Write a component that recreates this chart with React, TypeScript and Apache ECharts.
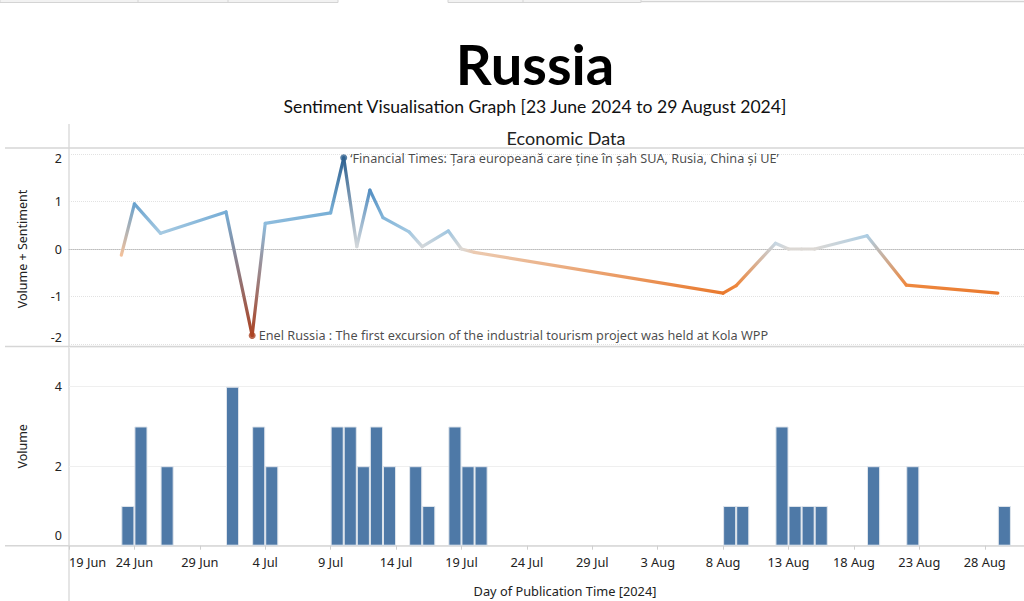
import React, { useEffect, useRef } from 'react';
import * as echarts from 'echarts';

// ---- data ----
const dates = [
  '2024-06-23', '2024-06-24', '2024-06-26', '2024-07-01', '2024-07-03', '2024-07-04',
  '2024-07-09', '2024-07-10', '2024-07-11', '2024-07-12', '2024-07-13', '2024-07-15',
  '2024-07-16', '2024-07-18', '2024-07-19', '2024-07-20', '2024-08-08', '2024-08-09',
  '2024-08-12', '2024-08-13', '2024-08-14', '2024-08-15', '2024-08-19', '2024-08-22',
  '2024-08-29',
];
const sentiment = [
  -0.13, 0.95, 0.33, 0.78, -1.82, 0.54,
  0.76, 1.92, 0.05, 1.24, 0.66, 0.36,
  0.05, 0.38, 0.0, -0.07, -0.93, -0.77,
  0.12, 0.0, 0.0, 0.0, 0.28, -0.76,
  -0.93,
];
const volume = [
  1, 3, 2, 4, 3, 2,
  3, 3, 2, 3, 2, 2,
  1, 3, 2, 2, 1, 1,
  3, 1, 1, 1, 2, 2,
  1,
];
const axisStart = '2024-06-19';
const axisEnd = '2024-08-31';
const monthNames = ['Jan', 'Feb', 'Mar', 'Apr', 'May', 'Jun', 'Jul', 'Aug', 'Sep', 'Oct', 'Nov', 'Dec'];
const sentimentTicks = [-2, -1, 0, 1, 2];
const maxHeadline = '‘Financial Times: Țara europeană care ține în șah SUA, Rusia, China și UE’';
const minHeadline = 'Enel Russia : The first excursion of the industrial tourism project was held at Kola WPP';

const titleText = 'Russia';
const subtitleText = 'Sentiment Visualisation Graph [23 June 2024 to 29 August 2024]';
const paneTitle = 'Economic Data';
const xName = 'Day of Publication Time [2024]';

// diverging orange-blue palette stops (value -> colour)
const paletteStops: [number, string][] = [
  [-2, '#9e3d22'], [-1.5, '#c24d26'], [-0.9, '#eb7b2d'], [-0.4, '#f5a86c'], [-0.1, '#f3c4a0'],
  [0, '#dcd8d4'], [0.15, '#c0d6e5'], [0.4, '#9cc5e1'], [0.8, '#74acd5'], [1.3, '#4f8abf'], [2, '#2b5c8a'],
];

const DAY = 86400000;
const dayOffset = (s: string) => (Date.parse(s) - Date.parse(axisStart)) / DAY;
const totalDays = dayOffset(axisEnd);
const fmtDay = (v: number) => {
  const d = new Date(Date.parse(axisStart) + Math.round(v) * DAY);
  return d.getUTCDate() + ' ' + monthNames[d.getUTCMonth()];
};

const hexToRgb = (h: string) => [parseInt(h.slice(1, 3), 16), parseInt(h.slice(3, 5), 16), parseInt(h.slice(5, 7), 16)];
const colorOf = (v: number) => {
  if (v <= paletteStops[0][0]) return paletteStops[0][1];
  for (let i = 1; i < paletteStops.length; i++) {
    const [v1, c1] = paletteStops[i];
    if (v <= v1) {
      const [v0, c0] = paletteStops[i - 1];
      const t = (v - v0) / (v1 - v0);
      const a = hexToRgb(c0);
      const b = hexToRgb(c1);
      const m = a.map((x, k) => Math.round(x + (b[k] - x) * t));
      return 'rgb(' + m.join(',') + ')';
    }
  }
  return paletteStops[paletteStops.length - 1][1];
};

const FONT = '"Noto Sans", sans-serif';
const TFONT = 'Lato, "Noto Sans", sans-serif';

export default function App() {
  const ref = useRef<HTMLDivElement>(null);

  useEffect(() => {
    if (!ref.current) return;
    const chart = echarts.init(ref.current, undefined, { renderer: 'svg' });

    const pts = dates.map((d, i) => [dayOffset(d), sentiment[i]]);
    const segments = pts.slice(1).map((p, i) => [pts[i][0], pts[i][1], p[0], p[1]]);
    const barData = dates.map((d, i) => [dayOffset(d) + 0.5, volume[i]]);
    let iMax = 0;
    let iMin = 0;
    sentiment.forEach((v, i) => {
      if (v > sentiment[iMax]) iMax = i;
      if (v < sentiment[iMin]) iMin = i;
    });
    const annot = [
      { value: pts[iMax], label: { formatter: maxHeadline } },
      { value: pts[iMin], label: { formatter: minHeadline } },
    ];

    const gray = '#d6d6d6';
    const option: any = {
      animation: false,
      backgroundColor: '#ffffff',
      textStyle: { fontFamily: FONT },
      grid: [
        { left: 69, right: 0, top: 154, height: 190 },
        { left: 69, right: 0, top: 347, height: 198.7 },
      ],
      xAxis: [
        {
          gridIndex: 0,
          type: 'value',
          min: 0,
          max: totalDays,
          interval: 5,
          axisLabel: { show: false },
          axisTick: { show: false },
          splitLine: { show: false },
          axisLine: { show: true, onZero: true, lineStyle: { color: '#bdbdbd', type: 'dotted', width: 1 } },
        },
        {
          gridIndex: 1,
          type: 'value',
          min: 0,
          max: totalDays,
          interval: 5,
          axisLabel: {
            formatter: fmtDay,
            color: '#222',
            fontSize: 12.8,
            fontFamily: FONT,
            margin: 10,
            alignMinLabel: 'left',
            showMaxLabel: false,
          },
          axisTick: { show: true, length: 4, lineStyle: { color: '#cfcfcf' } },
          axisLine: { show: true, onZero: false, lineStyle: { color: gray, width: 1.5 } },
          splitLine: { show: false },
        },
      ],
      yAxis: [
        {
          gridIndex: 0,
          type: 'value',
          min: -2,
          max: 2,
          interval: 1,
          name: 'Volume + Sentiment',
          nameLocation: 'middle',
          nameGap: 40,
          nameTextStyle: { color: '#222', fontSize: 12.5, fontFamily: FONT },
          axisLine: { show: false },
          axisTick: { show: false },
          splitLine: { show: true, lineStyle: { color: '#e2e2e2', type: 'dotted' } },
          axisLabel: {
            color: '#222',
            fontSize: 12.5,
            fontFamily: FONT,
            margin: 7,
            formatter: (v: number) => (v === sentimentTicks[4] ? '{t|' + v + '}' : v === sentimentTicks[0] ? '{b|' + v + '}' : String(v)),
            rich: {
              t: { padding: [8, 0, 0, 0], fontSize: 12.5, color: '#222', fontFamily: FONT },
              b: { padding: [0, 0, 14, 0], fontSize: 12.5, color: '#222', fontFamily: FONT },
            },
          },
        },
        {
          gridIndex: 1,
          type: 'value',
          min: 0,
          max: 5,
          interval: 2,
          name: 'Volume',
          nameLocation: 'middle',
          nameGap: 40,
          nameTextStyle: { color: '#222', fontSize: 12.5, fontFamily: FONT },
          axisLine: { show: false },
          axisTick: { show: false },
          splitLine: { show: true, lineStyle: { color: '#efefef' } },
          axisLabel: {
            color: '#222',
            fontSize: 12.5,
            fontFamily: FONT,
            margin: 7,
            formatter: (v: number) => (v === 0 ? '{z|0}' : v % 2 === 0 ? String(v) : ''),
            rich: { z: { padding: [0, 0, 20, 0], fontSize: 12.5, color: '#222', fontFamily: FONT } },
          },
        },
      ],
      series: [
        {
          type: 'custom',
          xAxisIndex: 0,
          yAxisIndex: 0,
          data: segments,
          encode: { x: [0, 2], y: [1, 3] },
          z: 3,
          renderItem: (params: any, api: any) => {
            const a = api.coord([api.value(0), api.value(1)]);
            const b = api.coord([api.value(2), api.value(3)]);
            const c0 = colorOf(api.value(1));
            const c1 = colorOf(api.value(3));
            return {
              type: 'line',
              shape: { x1: a[0], y1: a[1], x2: b[0], y2: b[1] },
              style: {
                stroke: new echarts.graphic.LinearGradient(a[0], a[1], b[0], b[1], [
                  { offset: 0, color: c0 },
                  { offset: 1, color: c1 },
                ], true),
                lineWidth: 3.2,
                lineCap: 'round',
              },
            };
          },
        },
        {
          type: 'scatter',
          xAxisIndex: 0,
          yAxisIndex: 0,
          data: annot,
          symbolSize: 7,
          z: 4,
          itemStyle: { color: (p: any) => colorOf(p.value[1]) },
          label: {
            show: true,
            position: 'right',
            distance: 3,
            color: '#1a1a1a',
            fontSize: 12.7,
            fontFamily: FONT,
          },
        },
        {
          type: 'bar',
          xAxisIndex: 1,
          yAxisIndex: 1,
          data: barData,
          barWidth: '100%',
          itemStyle: { color: '#4e79a7', borderColor: '#dfe5ec', borderWidth: 1 },
        },
      ],
      graphic: [
        // tab strip remnants at top
        { type: 'rect', shape: { x: 0, y: -1, width: 338, height: 3.5 }, style: { fill: '#f2f2f2', stroke: '#d4d4d4', lineWidth: 1 } },
        { type: 'line', shape: { x1: 138, y1: 0, x2: 138, y2: 3 }, style: { stroke: '#d4d4d4', lineWidth: 1 } },
        { type: 'line', shape: { x1: 228, y1: 0, x2: 228, y2: 3 }, style: { stroke: '#d4d4d4', lineWidth: 1 } },
        { type: 'rect', shape: { x: 448, y: -1, width: 193, height: 3.5 }, style: { fill: '#f2f2f2', stroke: '#d4d4d4', lineWidth: 1 } },
        { type: 'line', shape: { x1: 523, y1: 0, x2: 523, y2: 3 }, style: { stroke: '#d4d4d4', lineWidth: 1 } },
        { type: 'line', shape: { x1: 641, y1: 1.5, x2: 1024, y2: 1.5 }, style: { stroke: '#d4d4d4', lineWidth: 1.5 } },
        // pane borders
        { type: 'line', shape: { x1: 69, y1: 124, x2: 69, y2: 601 }, style: { stroke: '#dcdcdc', lineWidth: 1.5 } },
        { type: 'line', shape: { x1: 5, y1: 148, x2: 1024, y2: 148 }, style: { stroke: '#d6d6d6', lineWidth: 1.5 } },
        { type: 'line', shape: { x1: 5, y1: 346.5, x2: 1024, y2: 346.5 }, style: { stroke: '#d6d6d6', lineWidth: 1.5 } },
        { type: 'line', shape: { x1: 5, y1: 545.7, x2: 69, y2: 545.7 }, style: { stroke: gray, lineWidth: 1.5 } },
        // titles
        {
          type: 'text', x: 535, y: 63,
          style: { text: titleText, fontSize: 56, fontWeight: 'bold', fontFamily: TFONT, fill: '#000', align: 'center', verticalAlign: 'middle' },
        },
        {
          type: 'text', x: 535, y: 106,
          style: { text: subtitleText, fontSize: 17.6, fontFamily: TFONT, fill: '#111', align: 'center', verticalAlign: 'middle' },
        },
        {
          type: 'text', x: 566, y: 138,
          style: { text: paneTitle, fontSize: 18, fontFamily: TFONT, fill: '#222', align: 'center', verticalAlign: 'middle' },
        },
        {
          type: 'text', x: 565, y: 591,
          style: { text: xName, fontSize: 12.8, fontFamily: FONT, fill: '#222', align: 'center', verticalAlign: 'middle' },
        },
      ],
    };

    chart.setOption(option);
    return () => chart.dispose();
  }, []);

  return (
    <div
      ref={ref}
      style={{ position: 'absolute', left: 0, top: 0, width: 1024, height: 601, overflow: 'hidden' }}
    />
  );
}
